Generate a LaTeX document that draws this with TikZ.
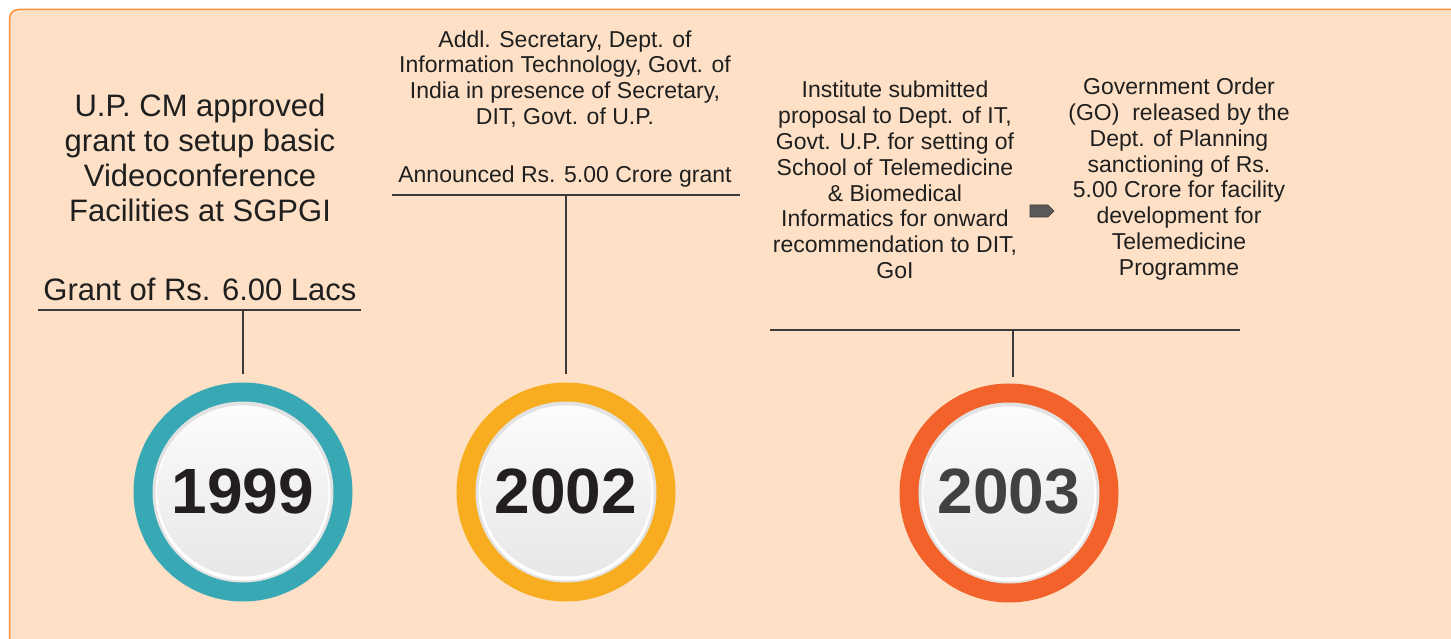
\documentclass[tikz,border=0pt]{standalone}
\usepackage{fontspec}
\setmainfont{Liberation Sans}
\definecolor{peach}{HTML}{FDE0C5}
\definecolor{edgeorange}{HTML}{F7923A}
\definecolor{tealring}{HTML}{37A8B4}
\definecolor{goldring}{HTML}{F7AD1F}
\definecolor{redring}{HTML}{F2622A}
\definecolor{rulegrey}{HTML}{3A3A3A}
\definecolor{inkdark}{HTML}{231F20}
\definecolor{inkgrey}{HTML}{414141}
\definecolor{rimgrey}{HTML}{E2E2E2}
\definecolor{facetop}{HTML}{FCFCFC}
\definecolor{facebot}{HTML}{E7E7E7}
\definecolor{arrowgrey}{HTML}{5A5A5A}
\newcommand{\notefont}{\fontsize{23}{25.8}\selectfont}
\newcommand{\bigfont}{\fontsize{31}{35}\selectfont}
\newcommand{\yearfont}{\fontsize{64}{70}\selectfont\bfseries}
\begin{document}
\begin{tikzpicture}[x=1pt,y=-1pt,
    ring/.style={circle, minimum size=219pt, inner sep=0pt, fill=#1},
    rim/.style={circle, minimum size=181pt, inner sep=0pt, fill=rimgrey},
    glow/.style={circle, minimum size=175pt, inner sep=0pt, fill=white},
    face/.style={circle, minimum size=171pt, inner sep=0pt, top color=facetop, bottom color=facebot, text=#1, font=\yearfont},
    note/.style={align=center, text=black!88, font=\notefont},
    bignote/.style={align=center, text=black!88, font=\bigfont},
    rule/.style={draw=rulegrey, line width=1.4pt}]
        % page and panel
        \fill[white] (0,0) rectangle (1451,639);
        \useasboundingbox (0,0) rectangle (1451,639);
        \draw[fill=peach, draw=edgeorange, line width=1.5pt, rounded corners=9pt] (9.5,9.5) rectangle (1475,665);
        % 1999
        \node[ring=tealring] (y1999) at (243,492) {};
        \node[rim] (rim1999) at (y1999) {};
        \node[glow] (glow1999) at ([yshift=-1pt]y1999.center) {};
        \node[face=inkdark] (face1999) at ([yshift=1pt]y1999.center) {1999};
        \node[bignote] (what1999) at (200,158) {U.P. CM approved\\grant to setup basic\\Videoconference\\Facilities at SGPGI};
        \node[bignote] (sum1999) at (200,289) {Grant of Rs. 6.00 Lacs};
            \coordinate (r1a) at (38,310);
            \coordinate (r1b) at (361,310);
            \coordinate (r1) at (243,310);
            \draw[rule] (r1a) -- (r1b);
            \draw[rule] (r1) -- ([yshift=8pt]y1999.north);
        % 2002
        \node[ring=goldring] (y2002) at (566,492) {};
        \node[rim] (rim2002) at (y2002) {};
        \node[glow] (glow2002) at ([yshift=-1pt]y2002.center) {};
        \node[face=inkdark] (face2002) at ([yshift=1pt]y2002.center) {2002};
        \node[note] (what2002) at (565,79) {Addl. Secretary, Dept. of\\Information Technology, Govt. of\\India in presence of Secretary,\\DIT, Govt. of U.P.};
        \node[note] (sum2002) at (565,177) {Announced Rs. 5.00 Crore grant};
            \coordinate (r2a) at (392,195);
            \coordinate (r2b) at (740,195);
            \coordinate (r2) at (566,195);
            \draw[rule] (r2a) -- (r2b);
            \draw[rule] (r2) -- ([yshift=8pt]y2002.north);
        % 2003
        \node[ring=redring] (y2003) at (1009,493) {};
        \node[rim] (rim2003) at (y2003) {};
        \node[glow] (glow2003) at ([yshift=-1pt]y2003.center) {};
        \node[face=inkgrey] (face2003) at ([yshift=1pt]y2003.center) {2003};
        \node[note] (what2003) at (895,180) {Institute submitted\\proposal to Dept. of IT,\\Govt. U.P. for setting of\\School of Telemedicine\\\& Biomedical\\Informatics for onward\\recommendation to DIT,\\GoI};
        \node[note] (go2003) at (1179,179) {Government Order\\(GO)~ released by the\\Dept. of Planning\\sanctioning of Rs.\\5.00 Crore for facility\\development for\\Telemedicine\\Programme};
            \filldraw[fill=arrowgrey, draw=rulegrey, line width=0.6pt] (1030,205) -- (1048,205) -- (1054,211) -- (1048,217) -- (1030,217) -- cycle;
            \coordinate (r3a) at (770,330);
            \coordinate (r3b) at (1240,330);
            \coordinate (r3) at (1013,330);
            \coordinate (s3) at ([yshift=6pt]y2003.north);
            \draw[rule] (r3a) -- (r3b);
            \draw[rule] (r3) -- (r3 |- s3);
\end{tikzpicture}
\end{document}
